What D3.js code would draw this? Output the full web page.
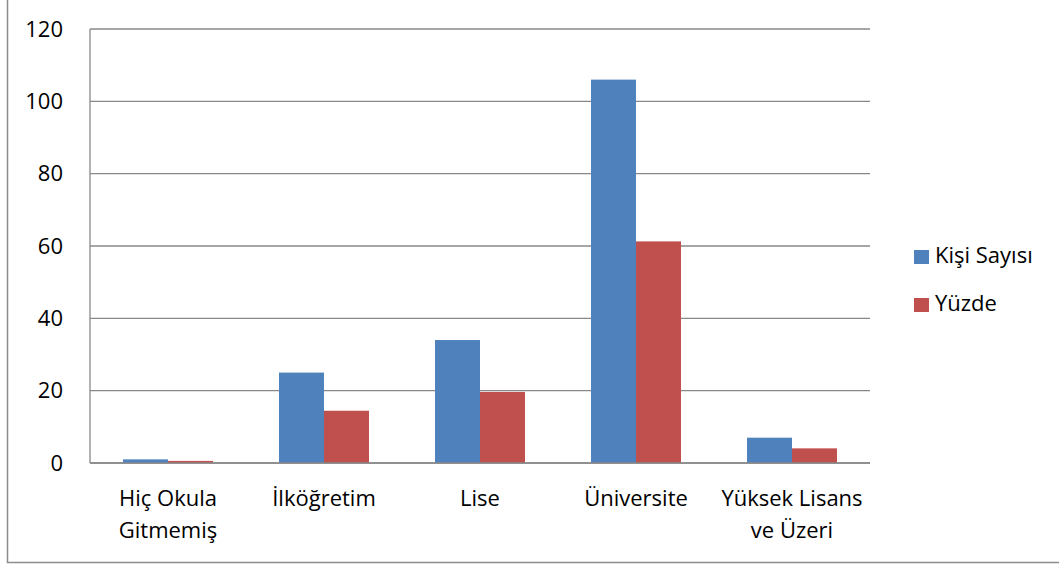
<!DOCTYPE html>
<html><head><meta charset="utf-8">
<script src="https://cdn.jsdelivr.net/npm/d3@7"></script>
<style>html,body{margin:0;padding:0;background:#fff;}</style>
</head><body>
<svg id="chart" width="1059" height="567"></svg>
<script>
const categories = [["Hiç Okula","Gitmemiş"],["İlköğretim"],["Lise"],["Üniversite"],["Yüksek Lisans","ve Üzeri"]];
const seriesNames = ["Kişi Sayısı","Yüzde"];
const kisiSayisi = [1, 25, 34, 106, 7];
const yuzde = [0.58, 14.45, 19.65, 61.27, 4.05];
const yTicks = [0, 20, 40, 60, 80, 100, 120];
const colors = ["#4F81BD", "#C0504D"];

(function(){
const svg = d3.select("#chart");
const font = "'Open Sans', sans-serif";
const fs = 22;
const plotLeft = 90, plotRight = 870, plotTop = 29, plotBottom = 463;

// outer border (only left & bottom visible)
svg.append("path").attr("d", "M7.5,-5 V562.5 H1065").attr("fill","none").attr("stroke","#8c8c8c").attr("stroke-width",1.5);

const keys = categories.map((c,i)=>i);
const x0 = d3.scaleBand().domain(keys).range([plotLeft, plotRight]).paddingInner(66/156).paddingOuter(33/156);
const x1 = d3.scaleBand().domain(seriesNames).range([0, x0.bandwidth()]);
const y = d3.scaleLinear().domain([0,120]).range([plotBottom, plotTop]);

// gridlines
svg.append("g").selectAll("line").data(yTicks).join("line")
  .attr("x1", plotLeft).attr("x2", plotRight)
  .attr("y1", d=>y(d)).attr("y2", d=>y(d))
  .attr("stroke", "#888").attr("stroke-width", 1.3);
// y axis line
svg.append("line").attr("x1",plotLeft).attr("x2",plotLeft).attr("y1",plotTop).attr("y2",plotBottom).attr("stroke","#888").attr("stroke-width",1.3);

// y tick labels
svg.append("g").selectAll("text").data(yTicks).join("text")
  .attr("x", 63).attr("y", d=>y(d)+7.5)
  .attr("text-anchor","end").attr("font-family",font).attr("font-size",fs).attr("fill","#000")
  .text(d=>d);

// bars
const data = [kisiSayisi, yuzde];
seriesNames.forEach((s, si) => {
  svg.append("g").selectAll("rect").data(data[si]).join("rect")
    .attr("x", (d,i)=>x0(i)+x1(s))
    .attr("y", d=>y(d))
    .attr("width", x1.bandwidth())
    .attr("height", d=>y(0)-y(d))
    .attr("fill", colors[si]);
});
// x axis line
svg.append("line").attr("x1",plotLeft).attr("x2",plotRight).attr("y1",plotBottom).attr("y2",plotBottom).attr("stroke","#888").attr("stroke-width",1.5);

// category labels
const cl = svg.append("g").selectAll("text").data(categories).join("text")
  .attr("text-anchor","middle").attr("font-family",font).attr("font-size",fs).attr("fill","#000");
cl.each(function(lines, i){
  const t = d3.select(this);
  lines.forEach((ln, li) => {
    t.append("tspan").attr("x", x0(i)+x0.bandwidth()/2).attr("y", 506 + li*32).text(ln);
  });
});

// legend
const lg = svg.append("g");
seriesNames.forEach((s, si) => {
  lg.append("rect").attr("x",914).attr("y",250+si*48).attr("width",15).attr("height",14).attr("fill",colors[si]);
  lg.append("text").attr("x",935).attr("y",263+si*48).attr("font-family",font).attr("font-size",fs).attr("fill","#000").text(s);
});
})();
</script>
</body></html>
